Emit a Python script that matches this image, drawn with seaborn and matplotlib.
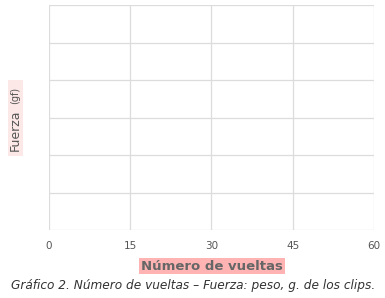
import matplotlib
matplotlib.use("Agg")
import matplotlib.pyplot as plt
import matplotlib.patches as mpatches
import seaborn as sns
import pandas as pd

vueltas = []
fuerza = []
x_ticks = [0, 15, 30, 45, 60]
y_ticks = [0, 1, 2, 3, 4, 5, 6]

sns.set_theme(style="white")
plt.rcParams['font.family'] = ['DejaVu Sans']

W, H = 385, 298
fig = plt.figure(figsize=(W/100, H/100), dpi=100)
ax = fig.add_axes([49/W, 1-230/H, (374-49)/W, (230-5)/H])

df = pd.DataFrame({"vueltas": pd.Series(vueltas, dtype=float), "fuerza": pd.Series(fuerza, dtype=float)})
sns.lineplot(data=df, x="vueltas", y="fuerza", ax=ax)

ax.set_xlim(x_ticks[0], x_ticks[-1])
ax.set_ylim(y_ticks[0], y_ticks[-1])
ax.set_xticks(x_ticks)
ax.set_yticks(y_ticks)
ax.set_yticklabels([])
ax.set_xticklabels([str(t) for t in x_ticks], fontsize=7.5, color="#555555")
ax.tick_params(axis="both", length=0, pad=8)
ax.grid(True, color="#dcdcdc", linewidth=0.9)
for s in ax.spines.values():
    s.set_visible(False)
ax.set_xlabel("")
ax.set_ylabel("")

# x label with pink box
fig.text(212/W, 1-266/H, "Número de vueltas", ha="center", va="center",
         fontsize=9.5, fontweight="bold", color="#666666",
         bbox=dict(boxstyle="square,pad=0.15", facecolor="#ffb3b3", edgecolor="none"))

# y label box
fig.patches.append(mpatches.Rectangle((8/W, 1-156/H), 15/W, 76/H, transform=fig.transFigure,
                                      facecolor="#fde8e8", edgecolor="none", zorder=0))
fig.text(15.5/W, 1-130/H, "Fuerza", ha="center", va="center", rotation=90,
         fontsize=9, color="#555555")
fig.text(15.5/W, 1-95/H, "(gf)", ha="center", va="center", rotation=90,
         fontsize=7, color="#555555")

fig.text(193/W, 1-285/H, "Gráfico 2. Número de vueltas – Fuerza: peso, g. de los clips.",
         ha="center", va="center", fontsize=8.7, style="italic", color="#333333")

fig.savefig("out.png", dpi=100)
